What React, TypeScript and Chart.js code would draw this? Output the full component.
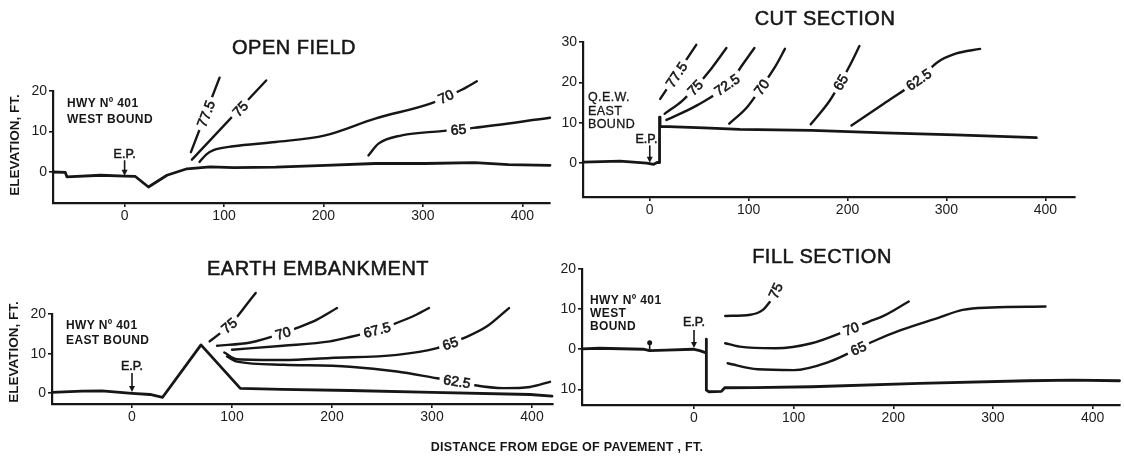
import React, { useEffect, useRef } from "react";
import { Chart, registerables } from "chart.js";

Chart.register(...registerables);

const FONT = '"Liberation Sans", Arial, Helvetica, sans-serif';
const INK = "#161616";
Chart.defaults.font.family = FONT;

type Pt = [number, number];

// ---------- shared ----------
const xTickValues = [0, 100, 200, 300, 400];

// ---------- OPEN FIELD ----------
const openFieldGround: Pt[] = [[-72, 0], [-59.6, -0.1], [-58, -1.2], [-24, -0.8], [0, -1.0], [10.8, -1.1], [24, -3.7], [42.6, -0.8], [62.7, 0.8], [86, 1.25], [110, 1.1], [152, 1.2], [202, 1.65], [252, 2.1], [302, 2.1], [352, 2.3], [386, 1.8], [427.8, 1.65]];
const openField775: Pt[] = [[66.7, 4.9], [95.5, 23.3]];
const openField75: Pt[] = [[67.7, 3.05], [142.4, 22.6]];
const openField70: Pt[] = [[75.4, 2.5], [82, 4.3], [89.4, 5.4], [109.5, 6.35], [152, 7.4], [201.7, 9.05], [252, 13.2], [308.9, 17], [339, 20.3], [354.2, 22.4]];
const openField65: Pt[] = [[245.2, 4.1], [255.3, 7], [278.8, 9.05], [319, 10.1], [350.8, 10.9], [427.8, 13.4]];
const openFieldYTicks = [0, 10, 20];
const openFieldYTickLabels = ["0", "10", "20"];

// ---------- CUT SECTION ----------
const cutGround: Pt[] = [[-67.5, 0.25], [-30, 0.5], [-3, 0], [4, -0.3], [8, 0.2], [9.9, 0.1], [9.9, 11.4], [10.4, 11.4], [10.4, 9.0], [11.5, 9.1], [55, 8.75], [91, 8.35], [164, 8.1], [237, 7.5], [309, 7.0], [391, 6.3]];
const cut775: Pt[] = [[10.6, 15.9], [47, 29.3]];
const cut75: Pt[] = [[15, 12.2], [33.1, 15.5], [45.9, 18.7], [62.2, 23.4], [77.5, 28.5]];
const cut725: Pt[] = [[16.8, 10.7], [47.7, 14.3], [80.3, 19.8], [95, 24.8], [105.8, 28.5]];
const cut70: Pt[] = [[80.4, 9.75], [98.6, 13.9], [113, 18.8], [127.6, 24.2], [136.7, 28.3]];
const cut65: Pt[] = [[162.8, 9.6], [182.1, 15.5], [193, 20], [204, 25], [212, 29]];
const cut625: Pt[] = [[204, 9.3], [236.6, 14.7], [272, 20.7], [291, 25], [309.3, 27.1], [334, 28.3]];
const cutYTicks = [0, 10, 20, 30];
const cutYTickLabels = ["0", "10", "20", "30"];

// ---------- EARTH EMBANKMENT ----------
const embGround: Pt[] = [[-80, 0.25], [-50, 0.55], [-30, 0.6], [0, 0], [18, -0.3], [30.6, -1.0], [69, 12.2], [108.3, 1.25], [150, 1.0], [218, 0.7], [300, 0.25], [398, -0.3], [420, -0.7]];
const emb75: Pt[] = [[77.6, 13.1], [88, 15.1], [98.3, 17.3], [108.3, 20.3], [118.3, 23.6], [123.7, 25.3]];
const emb70: Pt[] = [[85, 12], [118.3, 12.8], [153.3, 15.4], [165, 16.5], [185, 18.6], [205, 21.5]];
const emb675: Pt[] = [[100, 11], [151, 12], [198, 13.1], [218, 14.2], [245, 16], [260, 17.3], [280, 19.3], [297, 21.5]];
const emb65: Pt[] = [[92.3, 10.3], [105, 8.6], [151.6, 8.4], [198.3, 8.9], [265, 9.7], [305, 11.4], [318.3, 12.6], [331.6, 13.9], [355, 16.9], [377, 21.5]];
const emb625: Pt[] = [[95, 9.3], [105, 8.0], [151.6, 7.2], [218, 6.7], [265, 5.5], [305, 3.8], [325, 3.0], [341.6, 2.1], [371.6, 1.3], [398, 1.6], [418, 2.9]];
const embYTicks = [0, 10, 20];
const embYTickLabels = ["0", "10", "20"];

// ---------- FILL SECTION ----------
const fillGround: Pt[] = [[-112.4, 0.1], [-95, 0.25], [-51, 0], [-44.5, -0.35], [-28, -0.2], [-1, 0], [5.7, -0.35], [11.5, -0.85], [12.4, -0.85], [12.4, 2.5], [12.4, -10.2], [15, -10.6], [27.5, -10.5], [30.8, -9.6], [60, -9.55], [118, -9.35], [226, -8.5], [335, -7.85], [380, -7.7], [427, -7.85]];
const fill75: Pt[] = [[31.3, 8.3], [56.5, 8.6], [69.2, 9.8], [76.4, 11.9]];
const fill70: Pt[] = [[31.3, 1.5], [45.8, 0.65], [81.8, 0.25], [118, 1.5], [157.7, 5.1], [175.8, 6.9], [190.2, 8.3], [215.5, 11.9]];
const fill65: Pt[] = [[33.8, -3.5], [63.8, -5], [99.9, -5.2], [136, -3.1], [165, 0.2], [183, 2.3], [208.2, 4.8], [244.4, 7.75], [269.7, 9.8], [298.6, 10.4], [352.7, 10.65]];
const fillYTicks = [-10, 0, 10, 20];
const fillYTickLabels = ["10", "0", "10", "20"];

// ---------- layout ----------
const ML = 64, MT = 64, MR = 12, MB = 40, YW = 44, XH = 30;

interface ContourSpec { level: string; points: Pt[]; labelAt: Pt; angle?: number }
interface ArrowSpec { x: number; textX: number; textY: number; from: number; to: number; text: string }
interface PanelSpec {
  key: string;
  box: { left: number; top: number; right: number; bottom: number };
  xRange: [number, number];
  yRange: [number, number];
  yTicks: number[];
  yTickLabels: string[];
  ground: Pt[];
  contours: ContourSpec[];
  arrows: ArrowSpec[];
  markers: { x: number; top: number; base: number }[];
}

const panels: PanelSpec[] = [
  {
    key: "open",
    box: { left: 53, top: 91, right: 550, bottom: 203 },
    xRange: [-72, 427.8],
    yRange: [-7.65, 20],
    yTicks: openFieldYTicks,
    yTickLabels: openFieldYTickLabels,
    ground: openFieldGround,
    contours: [
      { level: "77.5", points: openField775, labelAt: [81.8, 14.4] },
      { level: "75", points: openField75, labelAt: [116.3, 15.6] },
      { level: "70", points: openField70, labelAt: [323, 18.6] },
      { level: "65", points: openField65, labelAt: [335.7, 10.5] },
    ],
    arrows: [{ x: 0, textX: 0, textY: 4.4, from: 2.9, to: -0.95, text: "E.P." }],
    markers: [],
  },
  {
    key: "cut",
    box: { left: 583, top: 42, right: 1075, bottom: 197 },
    xRange: [-67.5, 430],
    yRange: [-8.4, 30],
    yTicks: cutYTicks,
    yTickLabels: cutYTickLabels,
    ground: cutGround,
    contours: [
      { level: "77.5", points: cut775, labelAt: [27, 21.9] },
      { level: "75", points: cut75, labelAt: [45.9, 18.7] },
      { level: "72.5", points: cut725, labelAt: [78, 19.4] },
      { level: "70", points: cut70, labelAt: [113, 18.8] },
      { level: "65", points: cut65, labelAt: [193, 20] },
      { level: "62.5", points: cut625, labelAt: [272, 20.7] },
    ],
    arrows: [{ x: 0, textX: -3.3, textY: 5.9, from: 4.4, to: 0.1, text: "E.P." }],
    markers: [],
  },
  {
    key: "emb",
    box: { left: 52, top: 314, right: 553, bottom: 404 },
    xRange: [-80, 421],
    yRange: [-2.7, 20],
    yTicks: embYTicks,
    yTickLabels: embYTickLabels,
    ground: embGround,
    contours: [
      { level: "75", points: emb75, labelAt: [97, 17.1] },
      { level: "70", points: emb70, labelAt: [151, 15.2] },
      { level: "67.5", points: emb675, labelAt: [245, 16] },
      { level: "65", points: emb65, labelAt: [318.3, 12.6] },
      { level: "62.5", points: emb625, labelAt: [325, 3.0] },
    ],
    arrows: [{ x: 0, textX: 0, textY: 6.8, from: 5.1, to: 0.3, text: "E.P." }],
    markers: [],
  },
  {
    key: "fill",
    box: { left: 582, top: 269, right: 1120, bottom: 405 },
    xRange: [-112.4, 427.5],
    yRange: [-13.9, 20],
    yTicks: fillYTicks,
    yTickLabels: fillYTickLabels,
    ground: fillGround,
    contours: [
      { level: "75", points: fill75, labelAt: [81.8, 14.6], angle: -65 },
      { level: "70", points: fill70, labelAt: [157.7, 5.1] },
      { level: "65", points: fill65, labelAt: [165, 0.2] },
    ],
    arrows: [{ x: 0, textX: 0, textY: 6.7, from: 4.8, to: 0.3, text: "E.P." }],
    markers: [{ x: -44.5, top: 1.6, base: -0.35 }],
  },
];

function overlayPlugin(spec: PanelSpec) {
  return {
    id: "overlay",
    afterDatasetsDraw(chart: any) {
      const ctx: CanvasRenderingContext2D = chart.ctx;
      const xs = chart.scales.x;
      const ys = chart.scales.y;
      ctx.save();
      ctx.font = `14px ${FONT}`;
      ctx.textAlign = "center";
      ctx.textBaseline = "middle";
      spec.contours.forEach((c, i) => {
        const px = xs.getPixelForValue(c.labelAt[0]);
        const py = ys.getPixelForValue(c.labelAt[1]);
        let ang = 0;
        if (c.angle !== undefined) {
          ang = (c.angle * Math.PI) / 180;
        } else {
          const pts = chart.getDatasetMeta(i + 1).data;
          let best = Infinity;
          for (let k = 0; k < pts.length - 1; k++) {
            const a = pts[k], b = pts[k + 1];
            const dx = b.x - a.x, dy = b.y - a.y;
            const len2 = dx * dx + dy * dy || 1;
            let t = ((px - a.x) * dx + (py - a.y) * dy) / len2;
            t = Math.max(0, Math.min(1, t));
            const qx = a.x + t * dx, qy = a.y + t * dy;
            const d = (qx - px) ** 2 + (qy - py) ** 2;
            if (d < best) { best = d; ang = Math.atan2(dy, dx); }
          }
        }
        if (ang > Math.PI / 2) ang -= Math.PI;
        if (ang < -Math.PI / 2) ang += Math.PI;
        const tw = ctx.measureText(c.level).width;
        ctx.save();
        ctx.translate(px, py);
        ctx.rotate(ang);
        ctx.fillStyle = "#fff";
        ctx.fillRect(-tw / 2 - 4, -6, tw + 8, 12);
        ctx.fillStyle = INK;
        ctx.strokeStyle = INK;
        ctx.lineWidth = 0.6;
        ctx.fillText(c.level, 0, 1);
        ctx.strokeText(c.level, 0, 1);
        ctx.restore();
      });
      // E.P. arrows
      ctx.font = `12.5px ${FONT}`;
      ctx.fillStyle = INK;
      ctx.strokeStyle = INK;
      spec.arrows.forEach((a) => {
        const x = xs.getPixelForValue(a.x);
        const y1 = ys.getPixelForValue(a.from);
        const y2 = ys.getPixelForValue(a.to);
        ctx.lineWidth = 1.6;
        ctx.beginPath();
        ctx.moveTo(x, y1);
        ctx.lineTo(x, y2 - 3);
        ctx.stroke();
        ctx.beginPath();
        ctx.moveTo(x - 3, y2 - 6);
        ctx.lineTo(x + 3, y2 - 6);
        ctx.lineTo(x, y2);
        ctx.closePath();
        ctx.fill();
        ctx.lineWidth = 0.5;
        const tx = xs.getPixelForValue(a.textX);
        const ty = ys.getPixelForValue(a.textY);
        ctx.fillText(a.text, tx, ty);
        ctx.strokeText(a.text, tx, ty);
      });
      spec.markers.forEach((m) => {
        const x = xs.getPixelForValue(m.x);
        const yt = ys.getPixelForValue(m.top);
        const yb = ys.getPixelForValue(m.base);
        ctx.lineWidth = 1.6;
        ctx.beginPath();
        ctx.moveTo(x, yt);
        ctx.lineTo(x, yb);
        ctx.stroke();
        ctx.beginPath();
        ctx.arc(x, yt, 2.5, 0, Math.PI * 2);
        ctx.fill();
      });
      ctx.restore();
    },
  };
}

function PanelChart({ spec }: { spec: PanelSpec }) {
  const ref = useRef<HTMLCanvasElement>(null);
  const w = spec.box.right - spec.box.left + ML + MR;
  const h = spec.box.bottom - spec.box.top + MT + MB;
  useEffect(() => {
    const canvas = ref.current;
    if (!canvas) return;
    const toXY = (p: Pt) => ({ x: p[0], y: p[1] });
    const base = {
      borderColor: INK,
      pointRadius: 0,
      pointHoverRadius: 0,
      fill: false,
      clip: false as const,
      borderCapStyle: "round" as const,
      borderJoinStyle: "round" as const,
    };
    const datasets: any[] = [
      { ...base, data: spec.ground.map(toXY), borderWidth: 2.8, tension: 0 },
      ...spec.contours.map((c) => ({
        ...base,
        data: c.points.map(toXY),
        borderWidth: 2.4,
        cubicInterpolationMode: "monotone",
      })),
    ];
    const chart = new Chart(canvas, {
      type: "line",
      data: { datasets },
      options: {
        animation: false,
        responsive: false,
        maintainAspectRatio: false,
        devicePixelRatio: 1,
        events: [],
        layout: { padding: { left: ML - YW, top: MT, right: MR, bottom: MB - XH } },
        plugins: { legend: { display: false }, tooltip: { enabled: false } },
        scales: {
          x: {
            type: "linear",
            min: spec.xRange[0],
            max: spec.xRange[1],
            afterFit: (s: any) => { s.height = XH; },
            afterBuildTicks: (axis: any) => { axis.ticks = xTickValues.map((v) => ({ value: v })); },
            grid: { drawOnChartArea: false, drawTicks: true, tickLength: 4, color: INK, lineWidth: 1.6 },
            border: { display: true, color: INK, width: 2.2 },
            ticks: { autoSkip: false, maxRotation: 0, padding: 1, color: "#1c1c1c", font: { size: 14, family: FONT }, callback: (v: any) => String(v) },
          },
          y: {
            type: "linear",
            min: spec.yRange[0],
            max: spec.yRange[1],
            afterFit: (s: any) => { s.width = YW; },
            afterBuildTicks: (axis: any) => { axis.ticks = spec.yTicks.map((v) => ({ value: v })); },
            grid: { drawOnChartArea: false, drawTicks: true, tickLength: 4, color: INK, lineWidth: 1.6 },
            border: { display: true, color: INK, width: 2.2 },
            ticks: {
              autoSkip: false,
              padding: 2,
              color: "#1c1c1c",
              font: { size: 14, family: FONT },
              callback: (v: any) => {
                const i = spec.yTicks.indexOf(Number(v));
                return i >= 0 ? spec.yTickLabels[i] : "";
              },
            },
          },
        },
      } as any,
      plugins: [overlayPlugin(spec)],
    });
    return () => chart.destroy();
  }, [spec]);
  return (
    <canvas
      ref={ref}
      width={w}
      height={h}
      style={{ position: "absolute", left: spec.box.left - ML, top: spec.box.top - MT, width: w, height: h }}
    />
  );
}

const titles = [
  { text: "OPEN FIELD", x: 294, y: 47 },
  { text: "CUT SECTION", x: 825, y: 18 },
  { text: "EARTH EMBANKMENT", x: 318, y: 267.5 },
  { text: "FILL SECTION", x: 822, y: 256 },
];

const notes = [
  { lines: ["HWY Nº 401", "WEST BOUND"], x: 67, y: 103.3, lh: 16, weight: 700, size: 12 },
  { lines: ["Q.E.W.", "EAST", "BOUND"], x: 588, y: 97.3, lh: 13.5, weight: 400, size: 12.5 },
  { lines: ["HWY Nº 401", "EAST BOUND"], x: 66, y: 325, lh: 15, weight: 700, size: 12 },
  { lines: ["HWY Nº 401", "WEST", "BOUND"], x: 590, y: 300, lh: 13, weight: 700, size: 12 },
];

const yTitles = [
  { text: "ELEVATION, FT.", x: 15, y: 145 },
  { text: "ELEVATION, FT.", x: 14, y: 352 },
];

export default function App() {
  return (
    <div
      style={{
        position: "absolute",
        left: 0,
        top: 0,
        width: 1124,
        height: 459,
        overflow: "hidden",
        background: "#fff",
        fontFamily: FONT,
        color: INK,
      }}
    >
      {panels.map((p) => (
        <PanelChart key={p.key} spec={p} />
      ))}
      {titles.map((t) => (
        <div
          key={t.text}
          style={{
            position: "absolute",
            left: t.x,
            top: t.y,
            transform: "translate(-50%, -50%)",
            whiteSpace: "nowrap",
            lineHeight: 1,
            fontSize: 20,
            letterSpacing: 0.5,
            WebkitTextStroke: "0.5px #161616",
          }}
        >
          {t.text}
        </div>
      ))}
      {notes.map((n, ni) =>
        n.lines.map((line, li) => (
          <div
            key={`${ni}-${li}`}
            style={{
              position: "absolute",
              left: n.x,
              top: n.y + li * n.lh,
              transform: "translateY(-50%)",
              whiteSpace: "nowrap",
              lineHeight: 1,
              fontSize: n.size,
              fontWeight: n.weight,
              letterSpacing: 0.4,
              WebkitTextStroke: n.weight === 400 ? "0.3px #161616" : undefined,
            }}
          >
            {line}
          </div>
        ))
      )}
      {yTitles.map((t, i) => (
        <div
          key={i}
          style={{
            position: "absolute",
            left: t.x,
            top: t.y,
            transform: "translate(-50%, -50%) rotate(-90deg)",
            whiteSpace: "nowrap",
            lineHeight: 1,
            fontSize: 13.5,
            fontWeight: 700,
          }}
        >
          {t.text}
        </div>
      ))}
      <div
        style={{
          position: "absolute",
          left: 567,
          top: 447,
          transform: "translate(-50%, -50%)",
          whiteSpace: "nowrap",
          lineHeight: 1,
          fontSize: 12.5,
          fontWeight: 700,
          letterSpacing: 0.3,
        }}
      >
        DISTANCE FROM EDGE OF PAVEMENT , FT.
      </div>
    </div>
  );
}
